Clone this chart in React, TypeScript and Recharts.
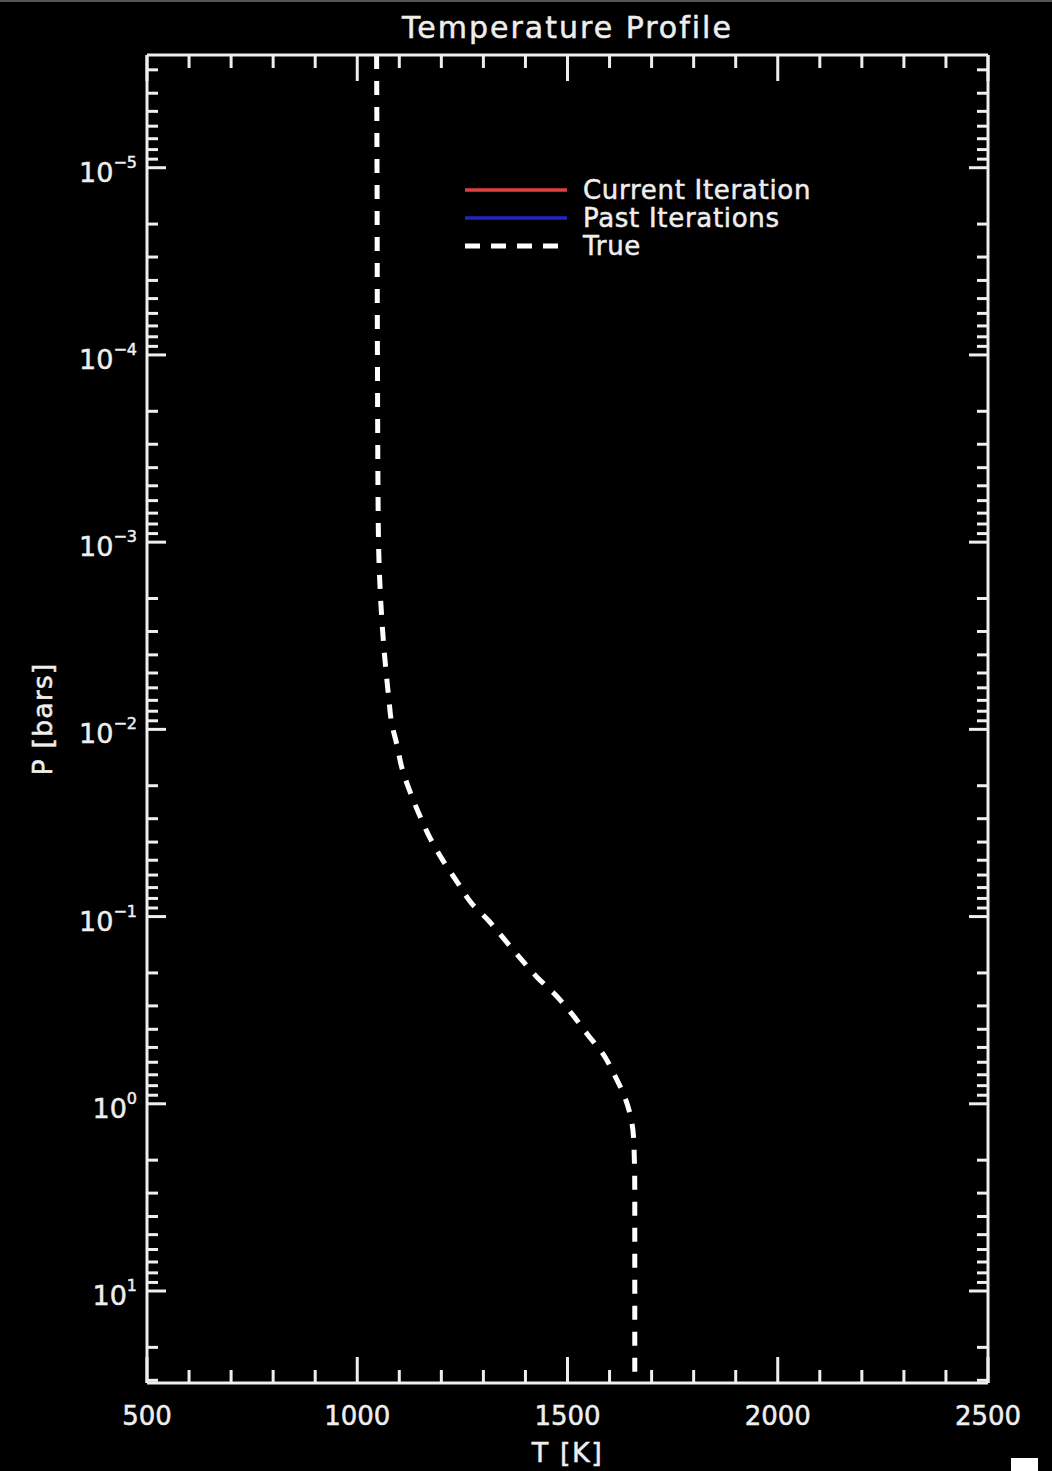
import React from "react";
import { LineChart, Line, XAxis, YAxis, Legend } from "recharts";

// True temperature profile (pressure in bars, T in K)
const pressure = [
  2.5e-6, 1e-5, 1e-4, 8e-4, 1.1e-3, 2.1e-3, 3.8e-3, 6.8e-3, 9.3e-3, 1.2e-2,
  1.6e-2, 2.2e-2, 2.9e-2, 3.8e-2, 4.9e-2, 6.5e-2, 8.5e-2, 0.105, 0.13, 0.166,
  0.21, 0.26, 0.33, 0.43, 0.54, 0.71, 0.93, 1.26, 1.66, 3.0, 31,
];
const trueTemp = [
  1046, 1047, 1048, 1050, 1051, 1056, 1064, 1075, 1082, 1094,
  1106, 1127, 1149, 1173, 1201, 1237, 1272, 1312, 1347, 1387,
  1427, 1470, 1510, 1549, 1584, 1613, 1637, 1653, 1658, 1660, 1660,
];

const xDomain = [500, 2500];
const xMajorTicks = [500, 1000, 1500, 2000, 2500];
const xMinorStep = 100;
const yDomain = [2.5e-6, 31];
const yMajorTicks = [1e-5, 1e-4, 1e-3, 1e-2, 1e-1, 1, 10];
const yMantissas = [2, 3, 4, 5, 6, 7, 8, 9];

const legendItems = [
  { name: "Current Iteration", color: "#e04040", dash: "" },
  { name: "Past Iterations", color: "#2323c8", dash: "" },
  { name: "True", color: "#ffffff", dash: "15 11" },
];

const data = pressure.map((p, i) => ({ p, t: trueTemp[i] }));

const xTicks: number[] = [];
for (let v = xDomain[0]; v <= xDomain[1]; v += xMinorStep) xTicks.push(v);

const yTicks: number[] = [...yMajorTicks];
for (let e = -6; e <= 1; e++) {
  yMantissas.forEach((m) => {
    const v = m * Math.pow(10, e);
    if (v >= yDomain[0] && v <= yDomain[1]) yTicks.push(v);
  });
}
yTicks.sort((a, b) => a - b);

const FONT = "'DejaVu Sans', sans-serif";
const AX = "#eeeeee";
// slight outline so the text reads as heavy as the IDL vector font
const textStyle = { fill: AX, stroke: AX, strokeWidth: 0.5, fontFamily: FONT };

const isMajorY = (v: number) =>
  Math.abs(Math.log10(v) - Math.round(Math.log10(v))) < 1e-6;

const BottomTick = (props: any) => {
  const { x, y, payload } = props;
  const major = xMajorTicks.includes(payload.value);
  return (
    <g>
      <line x1={x} y1={y} x2={x} y2={y - (major ? 26 : 13)} stroke={AX} strokeWidth={3} />
      {major && (
        <text x={x} y={y + 42} textAnchor="middle" fontSize={26} {...textStyle}>
          {payload.value}
        </text>
      )}
    </g>
  );
};

const TopTick = (props: any) => {
  const { x, y, payload } = props;
  const major = xMajorTicks.includes(payload.value);
  return <line x1={x} y1={y} x2={x} y2={y + (major ? 26 : 13)} stroke={AX} strokeWidth={3} />;
};

const LeftTick = (props: any) => {
  const { x, y, payload } = props;
  const major = isMajorY(payload.value);
  const exp = Math.round(Math.log10(payload.value));
  return (
    <g>
      <line x1={x} y1={y} x2={x + (major ? 19 : 11)} y2={y} stroke={AX} strokeWidth={3} />
      {major && (
        <text x={x - 10} y={y + 14} textAnchor="end" fontSize={27} {...textStyle}>
          10
          <tspan dy={-14} fontSize={16}>
            {exp < 0 ? `\u2212${-exp}` : `${exp}`}
          </tspan>
        </text>
      )}
    </g>
  );
};

const RightTick = (props: any) => {
  const { x, y, payload } = props;
  const major = isMajorY(payload.value);
  return <line x1={x} y1={y} x2={x - (major ? 19 : 11)} y2={y} stroke={AX} strokeWidth={3} />;
};

const LegendBox = () => (
  <svg width={380} height={92}>
    {legendItems.map((item, i) => (
      <g key={item.name}>
        <line
          x1={5}
          x2={item.dash ? 100 : 107}
          y1={20 + i * 28}
          y2={20 + i * 28}
          stroke={item.color}
          strokeWidth={item.dash ? 5 : 3.5}
          strokeDasharray={item.dash || undefined}
        />
        <text x={123} y={29 + i * 28} fontSize={26} letterSpacing={0.7} {...textStyle}>
          {item.name}
        </text>
      </g>
    ))}
  </svg>
);

export default function App() {
  return (
    <div style={{ position: "absolute", left: 0, top: 0, width: 1052, height: 1471, background: "#000" }}>
      <div style={{ position: "absolute", left: 0, top: 0, width: 1052, height: 2, background: "#555" }} />
      <LineChart
        width={1052}
        height={1471}
        data={data}
        layout="vertical"
        margin={{ top: 0, right: 0, bottom: 0, left: 0 }}
      >
        <XAxis
          type="number"
          dataKey="t"
          domain={xDomain}
          allowDataOverflow
          ticks={xTicks}
          interval={0}
          height={88}
          tickSize={0}
          tickMargin={0}
          tickLine={false}
          axisLine={{ stroke: AX, strokeWidth: 3 }}
          tick={<BottomTick />}
          label={{
            content: (p: any) => {
              const vb = p.viewBox || {};
              return (
                <text x={vb.x + vb.width / 2} y={1462} textAnchor="middle" fontSize={27} letterSpacing={1.5} {...textStyle}>
                  T [K]
                </text>
              );
            },
          }}
        />
        <XAxis
          xAxisId="top"
          orientation="top"
          type="number"
          dataKey="t"
          domain={xDomain}
          allowDataOverflow
          ticks={xTicks}
          interval={0}
          height={55}
          tickSize={0}
          tickMargin={0}
          tickLine={false}
          axisLine={{ stroke: AX, strokeWidth: 3 }}
          tick={<TopTick />}
          label={{
            content: (p: any) => {
              const vb = p.viewBox || {};
              return (
                <text x={vb.x + vb.width / 2} y={38} textAnchor="middle" fontSize={30} letterSpacing={2} {...textStyle}>
                  Temperature Profile
                </text>
              );
            },
          }}
        />
        <YAxis
          type="number"
          dataKey="p"
          scale="log"
          domain={yDomain}
          allowDataOverflow
          ticks={yTicks}
          interval={0}
          width={147}
          tickSize={0}
          tickMargin={0}
          tickLine={false}
          axisLine={{ stroke: AX, strokeWidth: 3 }}
          tick={<LeftTick />}
          label={{
            content: (p: any) => {
              const vb = p.viewBox || {};
              const cy = vb.y + vb.height / 2;
              return (
                <text x={42} y={cy} transform={`rotate(-90 42 ${cy})`} textAnchor="middle" dominantBaseline="central" fontSize={27} letterSpacing={1} {...textStyle}>
                  P [bars]
                </text>
              );
            },
          }}
        />
        <YAxis
          yAxisId="right"
          orientation="right"
          type="number"
          dataKey="p"
          scale="log"
          domain={yDomain}
          allowDataOverflow
          ticks={yTicks}
          interval={0}
          width={64}
          tickSize={0}
          tickMargin={0}
          tickLine={false}
          axisLine={{ stroke: AX, strokeWidth: 3 }}
          tick={<RightTick />}
        />
        <Legend
          layout="horizontal"
          verticalAlign="middle"
          align="center"
          content={() => <LegendBox />}
          wrapperStyle={{ left: 460, top: 170, width: 380, height: 92 }}
        />
        <Line
          type="monotone"
          dataKey="t"
          stroke="#ffffff"
          strokeWidth={5}
          strokeDasharray="14 12"
          dot={false}
          isAnimationActive={false}
        />
      </LineChart>
      <div style={{ position: "absolute", left: 1011, top: 1458, width: 27, height: 13, background: "#fff" }} />
    </div>
  );
}
